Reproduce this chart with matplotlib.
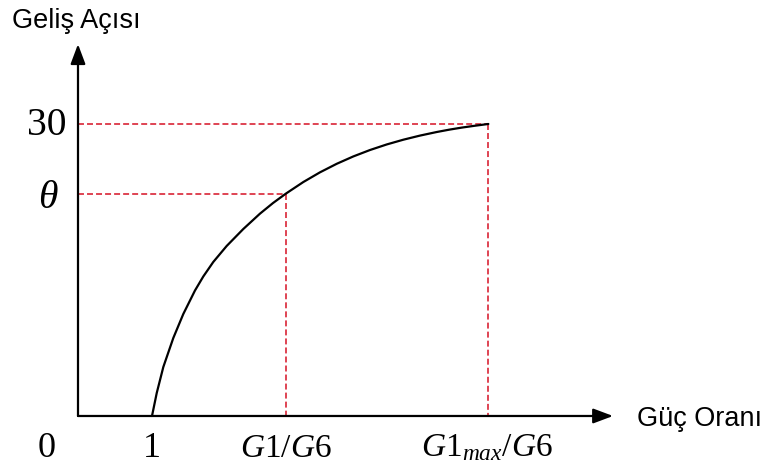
import matplotlib
matplotlib.use("Agg")
import matplotlib.pyplot as plt

plt.rcParams['mathtext.fontset'] = 'custom'
plt.rcParams['mathtext.rm'] = 'Liberation Serif'
plt.rcParams['mathtext.it'] = 'Liberation Serif:italic'
plt.rcParams['font.family'] = ['Liberation Sans', 'DejaVu Sans']

# power ratio vs. incidence angle curve
power_ratio = [1.0, 1.064, 1.153, 1.288, 1.423, 1.581, 1.693, 1.828, 2.009,
               2.234, 2.459, 2.635, 2.81, 3.045, 3.270, 3.496, 3.720, 3.946,
               4.172, 4.396, 4.622, 4.847, 5.018, 5.189, 5.365, 5.545]
angle = [0.0, 2.363, 5.034, 8.014, 10.479, 12.894, 14.332, 15.822, 17.466,
         19.212, 20.787, 21.878, 22.85, 24.037, 25.033, 25.909, 26.665, 27.326,
         27.897, 28.384, 28.808, 29.174, 29.418, 29.632, 29.821, 30.0]

# marked operating point and maximum
g_ratio, theta = 2.81, 22.85
g_max_ratio, angle_max = 5.545, 30.0

x_tick_labels = ['0', '1', '$G1/G6$', '$G1_{max}/G6$']
label_x = [-0.419, 1.0, 2.81, 5.52]

red = '#dc3545'

fig = plt.figure(figsize=(7.68, 4.64), dpi=100)
ax = fig.add_axes([0, 0, 1, 1])
ax.set_xlim(-1.054, 9.324)
ax.set_ylim(-4.83, 42.84)
ax.axis('off')

# axes with arrow heads
arrow = dict(arrowstyle='-|>,head_length=1.2,head_width=0.45', lw=1.6,
             color='black', shrinkA=0, shrinkB=0, mutation_scale=10)
ax.annotate('', xy=(7.23, 0), xytext=(0, 0), arrowprops=arrow)
ax.annotate('', xy=(0, 38.2), xytext=(0, 0), arrowprops=arrow)

# guide lines
dash = (0, (3.3, 1.7))
guide = dict(color=red, lw=1.3, ls=dash)
ax.plot([0, g_max_ratio], [angle_max, angle_max], **guide)
ax.plot([g_max_ratio, g_max_ratio], [angle_max, 0], **guide)
ax.plot([0, g_ratio], [theta, theta], **guide)
ax.plot([g_ratio, g_ratio], [theta, 0], **guide)

ax.plot(power_ratio, angle, color='black', lw=1.6,
        solid_capstyle='round', solid_joinstyle='round')

# tick labels
for x, s in zip(label_x[:2], x_tick_labels[:2]):
    ax.text(x, -4.08, s, fontsize=26, ha='center', va='baseline',
            family='Liberation Serif')
for x, s in zip(label_x[2:], x_tick_labels[2:]):
    ax.text(x, -4.08, s, fontsize=24, ha='center', va='baseline')
ax.text(-0.149, 28.97, '30', fontsize=28.5, ha='right', va='baseline',
        family='Liberation Serif')
ax.text(-0.405, 21.47, r'$\theta$', fontsize=28.5, ha='center', va='baseline')

# axis titles
ax.text(-0.892, 39.93, 'Geliş Açısı', fontsize=19.5, ha='left', va='baseline')
ax.text(7.55, -0.925, 'Güç Oranı', fontsize=19.5, ha='left', va='baseline')

fig.savefig('out.png', dpi=100)
